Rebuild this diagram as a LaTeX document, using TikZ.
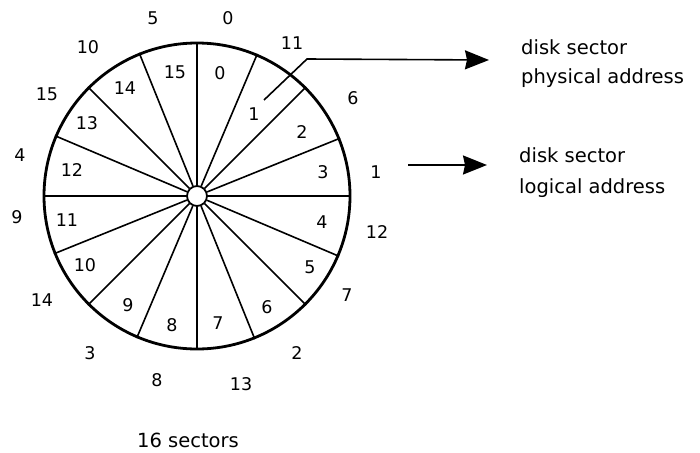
\documentclass[tikz,border=0pt]{standalone}
\usepackage{fontspec}
\setmainfont{DejaVu Sans}
\usetikzlibrary{arrows.meta}
\begin{document}
\begin{tikzpicture}[x=1pt,y=-1pt,
  num/.style={inner sep=0pt,font=\fontsize{17.5}{20}\selectfont},
  caption/.style={inner sep=0pt,anchor=base west,font=\fontsize{19.5}{24}\selectfont},
  spoke/.style={line width=1.6pt},
  rim/.style={line width=2.8pt},
  pointer/.style={line width=1.6pt,-{Stealth[length=24pt,width=19pt,inset=2pt]}}]
\useasboundingbox (0,0) rectangle (700,452);

% disk outline and central hub
\node[circle,draw,rim,minimum size=306pt,inner sep=0pt] (disk) at (197,196) {};
\node[circle,draw,line width=1.8pt,minimum size=20pt,inner sep=0pt] (hub) at (197,196) {};
% sixteen sector boundaries
\foreach \a in {0,22.5,...,337.5}
  \draw[spoke] (hub.\a) -- (disk.\a);

% physical sector numbers inside the disk
\node[num] (p0)  at (220,73)  {0};
\node[num] (p1)  at (254,114) {1};
\node[num] (p2)  at (302,132) {2};
\node[num] (p3)  at (323,172) {3};
\node[num] (p4)  at (322,222) {4};
\node[num] (p5)  at (310,267) {5};
\node[num] (p6)  at (267,307) {6};
\node[num] (p7)  at (218,323) {7};
\node[num] (p8)  at (172,325) {8};
\node[num] (p9)  at (128,305) {9};
\node[num] (p10) at (85,265)  {10};
\node[num] (p11) at (67,220)  {11};
\node[num] (p12) at (72,170)  {12};
\node[num] (p13) at (87,123)  {13};
\node[num] (p14) at (125,88)  {14};
\node[num] (p15) at (175,72)  {15};

% logical sector numbers outside the disk
\node[num] (l0)  at (228,18)  {0};
\node[num] (l11) at (292,43)  {11};
\node[num] (l6)  at (353,98)  {6};
\node[num] (l1)  at (376,172) {1};
\node[num] (l12) at (377,232) {12};
\node[num] (l7)  at (347,295) {7};
\node[num] (l2)  at (297,353) {2};
\node[num] (l13) at (241,384) {13};
\node[num] (l8)  at (157,380) {8};
\node[num] (l3)  at (90,353)  {3};
\node[num] (l14) at (42,300)  {14};
\node[num] (l9)  at (17,217)  {9};
\node[num] (l4)  at (20,155)  {4};
\node[num] (l15) at (47,94)   {15};
\node[num] (l10) at (88,47)   {10};
\node[num] (l5)  at (153,18)  {5};

% legend pointers
\coordinate (tail) at (264,100);
\coordinate (bend) at (307,59);
\coordinate (tipA) at (489,60);
\draw[pointer] (tail) -- (bend) -- (tipA);
\coordinate (startB) at (408,165);
\coordinate (tipB) at (487,165);
\draw[pointer] (startB) -- (tipB);

% legend texts
\node[caption] (physA) at (521,55)  {disk sector};
\node[caption] (physB) at (521,83)  {physical address};
\node[caption] (logA)  at (519,162) {disk sector};
\node[caption] (logB)  at (519,193) {logical address};
\node[caption,anchor=base] (count) at (188,447) {16 sectors};
\end{tikzpicture}
\end{document}
